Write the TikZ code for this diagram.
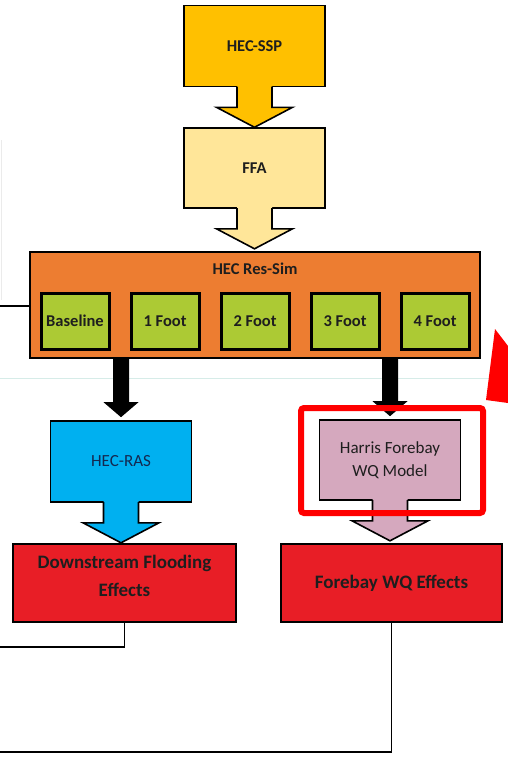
\documentclass[tikz,border=0pt]{standalone}
\usepackage{fontspec}
\setmainfont{Carlito}
\usetikzlibrary{calc,positioning}
\definecolor{sspGold}{RGB}{255,192,0}
\definecolor{ffaTan}{RGB}{255,230,153}
\definecolor{resOrange}{RGB}{237,125,49}
\definecolor{runGreen}{RGB}{172,202,52}
\definecolor{rasBlue}{RGB}{0,176,240}
\definecolor{wqMauve}{RGB}{213,168,190}
\definecolor{effRed}{RGB}{232,30,38}
\definecolor{hiRed}{RGB}{255,0,0}
\definecolor{sepTeal}{RGB}{214,236,232}
\definecolor{txtDark}{RGB}{30,30,30}
\definecolor{rasText}{RGB}{20,40,80}

\tikzset{
  model/.style={draw=black, line width=1.6pt, minimum width=141pt, minimum height=81pt,
    inner sep=2pt, align=center, text=txtDark, font=\fontsize{16.5}{20}\selectfont\bfseries},
  runbox/.style={draw=black, line width=3pt, fill=runGreen, minimum width=68pt, minimum height=56pt,
    inner sep=0pt, text=txtDark, font=\fontsize{16.5}{20}\selectfont\bfseries},
  effect/.style={draw=black, line width=1.8pt, fill=effRed, minimum width=222pt, minimum height=78pt,
    align=center, text=txtDark, font=\fontsize{19}{28}\selectfont\bfseries},
  link/.style={black, line width=1.6pt},
}

\begin{document}
\begin{tikzpicture}[x=1pt,y=-1pt]
\useasboundingbox (0,0) rectangle (508,760);

\draw[sepTeal, line width=1pt] (0,378)--(508,378);

% models
\node[model, fill=sspGold] (ssp) at (254.5,46) {HEC-SSP};
\node[model, fill=ffaTan, minimum height=80pt] (ffa) at (254.5,168) {FFA};
\node[model, fill=resOrange, minimum width=450pt, minimum height=106pt] (ressim) at (255,305) {};
\node[text=txtDark, font=\fontsize{16.5}{18}\selectfont\bfseries] (restitle) at (255,269) {HEC Res-Sim};
\foreach \i/\run in {0/Baseline,1/1 Foot,2/2 Foot,3/3 Foot,4/4 Foot}{
  \node[runbox] (run\i) at ({75+90*\i},321) {\run};
}
\node[model, fill=rasBlue, text=rasText, font=\fontsize{17}{20}\selectfont] (ras) at (121,461.5) {HEC-RAS};
\node[model, fill=wqMauve, minimum height=80pt, font=\fontsize{17}{23}\selectfont] (harris) at (390,460) {Harris Forebay\\WQ Model};

% effects
\node[effect, minimum width=223pt, text depth=14pt] (flood) at (124.5,583) {Downstream Flooding\\Effects};
\node[effect, minimum width=221pt] (fwq) at (391.5,583) {Forebay WQ Effects};

% block arrows below the models
\foreach \src/\col in {ssp/sspGold,ffa/ffaTan,ras/rasBlue,harris/wqMauve}{
  \fill[\col] ($(\src.south)+(-17.5,-2)$) -- ($(\src.south)+(-17.5,20)$) -- ($(\src.south)+(-38,20)$)
    -- ($(\src.south)+(0,40)$) -- ($(\src.south)+(38,20)$) -- ($(\src.south)+(17.5,20)$)
    -- ($(\src.south)+(17.5,-2)$) -- cycle;
  \draw[black, line width=1.6pt, line join=miter] ($(\src.south)+(-17.5,-0.8)$) -- ($(\src.south)+(-17.5,20)$)
    -- ($(\src.south)+(-38,20)$) -- ($(\src.south)+(0,40)$) -- ($(\src.south)+(38,20)$)
    -- ($(\src.south)+(17.5,20)$) -- ($(\src.south)+(17.5,-0.8)$);
}

% black arrows from Res-Sim
\foreach \dst in {ras,harris}{
  \coordinate (top\dst) at (ressim.south -| \dst.north);
  \coordinate (tip\dst) at ($(\dst.north)+(0,-3)$);
  \fill[black] ($(top\dst)+(-8,0)$) -- ($(tip\dst)+(-8,-15)$) -- ($(tip\dst)+(-17.5,-15)$) -- (tip\dst)
    -- ($(tip\dst)+(17.5,-15)$) -- ($(tip\dst)+(8,-15)$) -- ($(top\dst)+(8,0)$) -- cycle;
}

% connectors off the left edge
\coordinate (resend) at (0,306);
\coordinate (floodend) at (0,647);
\coordinate (fwqend) at (0,752);
\draw[link] (ressim.west |- resend) -- (resend);
\draw[link] (flood.south) |- (floodend);
\draw[link] (fwq.south) |- (fwqend);
\draw[black!8, line width=0.8pt] (1,140) -- (1,300);

% highlight
\draw[hiRed, line width=6pt, rounded corners=3pt] (301,408) rectangle (483,513);
\fill[hiRed] (495,329) -- (508,346) -- (508,403) -- (486,400) -- cycle;
\end{tikzpicture}
\end{document}
